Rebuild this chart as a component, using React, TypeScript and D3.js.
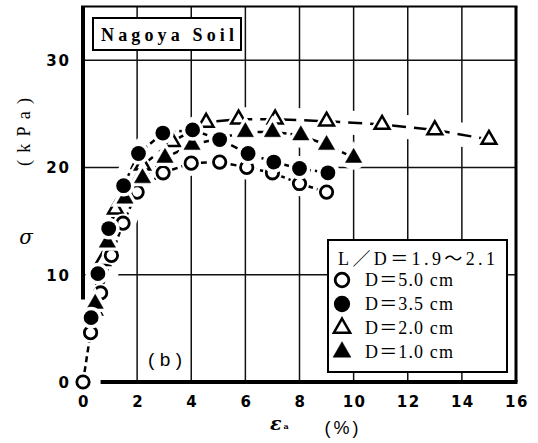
import React, { useEffect, useRef } from 'react';
import * as d3 from 'd3';

// axis ticks / grid
const xTicks = [0, 2, 4, 6, 8, 10, 12, 14, 16];
const yTicks = [0, 10, 20, 30];
const gridX = [2, 4, 6, 8, 10, 12, 14];
const gridY = [10, 20, 30];

// D = 5.0 cm (open circle)
const d50Strain = [0, 0.28, 0.65, 1.05, 1.48, 2.0, 2.96, 4.0, 5.05, 6.05, 7.0, 8.0, 9.0];
const d50Stress = [0, 4.6, 8.3, 11.8, 14.8, 17.7, 19.5, 20.4, 20.5, 20.0, 19.5, 18.5, 17.7];

// D = 3.5 cm (filled circle)
const d35Strain = [0.3, 0.55, 0.95, 1.5, 2.05, 2.95, 4.05, 5.05, 6.1, 7.05, 8.0, 9.05];
const d35Stress = [6.0, 10.1, 14.3, 18.3, 21.3, 23.2, 23.5, 22.6, 21.3, 20.5, 19.9, 19.5];

// D = 2.0 cm (open triangle)
const d20Strain = [0.42, 0.72, 1.2, 2.2, 3.3, 4.55, 5.75, 7.1, 9.0, 11.05, 13.0, 15.0];
const d20Stress = [6.7, 11.3, 16.1, 20.2, 22.4, 24.2, 24.5, 24.5, 24.3, 24.0, 23.5, 22.6];

// D = 1.0 cm (filled triangle)
const d10Strain = [0.45, 0.9, 1.55, 2.2, 3.03, 4.03, 6.0, 7.0, 8.05, 9.0, 10.0];
const d10Stress = [7.3, 13.0, 17.1, 19.0, 20.9, 22.1, 23.3, 23.3, 23.0, 22.1, 20.9];

const legendTitle = 'L／D＝1.9～2.1';
const seriesLabels = ['D＝5.0 cm', 'D＝3.5 cm', 'D＝2.0 cm', 'D＝1.0 cm'];

// where the frame is broken near the origin
const yAxisBreak = 7.7;
const xAxisBreak = 0.65;

type Shape = 'circle' | 'triangle';
interface Series {
  label: string;
  xs: number[];
  ys: number[];
  shape: Shape;
  filled: boolean;
  dash: string;
}

const series: Series[] = [
  { label: seriesLabels[2], xs: d20Strain, ys: d20Stress, shape: 'triangle', filled: false, dash: '14,8' },
  { label: seriesLabels[0], xs: d50Strain, ys: d50Stress, shape: 'circle', filled: false, dash: '6,4' },
  { label: seriesLabels[3], xs: d10Strain, ys: d10Stress, shape: 'triangle', filled: true, dash: '7,4' },
  { label: seriesLabels[1], xs: d35Strain, ys: d35Stress, shape: 'circle', filled: true, dash: '7,4' }
];
const legendOrder = [1, 3, 0, 2];

const App: React.FC = () => {
  const svgRef = useRef<SVGSVGElement>(null);
  const width = 538;
  const height = 443;
  const margin = { top: 6.5, right: 22, bottom: 61, left: 83 };

  useEffect(() => {
    if (!svgRef.current) return;
    const svg = d3.select(svgRef.current);
    svg.selectAll('*').remove();

    const x = d3.scaleLinear().domain([0, 16]).range([margin.left, width - margin.right]);
    const y = d3.scaleLinear().domain([0, 35]).range([height - margin.bottom, margin.top]);
    const x0 = x(0), x1 = x(16), y0 = y(0), y1 = y(35);

    svg.append('rect').attr('width', width).attr('height', height).attr('fill', '#fff');

    // grid
    svg.append('g')
      .selectAll('line.gx')
      .data(gridX)
      .enter()
      .append('line')
      .attr('x1', d => x(d)).attr('x2', d => x(d))
      .attr('y1', y0).attr('y2', y1)
      .attr('stroke', '#111').attr('stroke-width', 1.5);
    svg.append('g')
      .selectAll('line.gy')
      .data(gridY)
      .enter()
      .append('line')
      .attr('x1', x0).attr('x2', x1)
      .attr('y1', d => y(d)).attr('y2', d => y(d))
      .attr('stroke', '#111').attr('stroke-width', 1.5);

    const lineGen = d3.line<[number, number]>()
      .x(d => x(d[0]))
      .y(d => y(d[1]));

    // white halo along curves erases grid near the data
    series.forEach(s => {
      const pts = s.xs.map((v, i) => [v, s.ys[i]] as [number, number]);
      svg.append('path')
        .attr('d', lineGen(pts))
        .attr('fill', 'none')
        .attr('stroke', '#fff')
        .attr('stroke-width', 24)
        .attr('stroke-linejoin', 'round')
        .attr('stroke-linecap', 'round');
    });

    // frame
    svg.append('line').attr('x1', x0).attr('x2', x0).attr('y1', y1).attr('y2', y(yAxisBreak))
      .attr('stroke', '#000').attr('stroke-width', 4);
    svg.append('line').attr('x1', x(xAxisBreak)).attr('x2', x1 + 1.5).attr('y1', y0).attr('y2', y0)
      .attr('stroke', '#000').attr('stroke-width', 4);
    svg.append('line').attr('x1', x1).attr('x2', x1).attr('y1', y1).attr('y2', y0)
      .attr('stroke', '#000').attr('stroke-width', 3);
    svg.append('line').attr('x1', x0 - 2).attr('x2', x1 + 1.5).attr('y1', y1).attr('y2', y1)
      .attr('stroke', '#000').attr('stroke-width', 2);

    // data lines
    series.forEach(s => {
      const pts = s.xs.map((v, i) => [v, s.ys[i]] as [number, number]);
      svg.append('path')
        .attr('d', lineGen(pts))
        .attr('fill', 'none')
        .attr('stroke', '#000')
        .attr('stroke-width', 2.5)
        .attr('stroke-dasharray', s.dash);
    });

    const drawMarker = (g: d3.Selection<SVGGElement, unknown, null, undefined>, shape: Shape,
      filled: boolean, cx: number, cy: number, halo: boolean, scale = 1) => {
      if (shape === 'circle') {
        const r = (filled ? 7.4 : 6.2) * scale;
        g.append('circle')
          .attr('cx', cx).attr('cy', cy).attr('r', r)
          .attr('fill', halo ? '#fff' : filled ? '#000' : '#fff')
          .attr('stroke', halo ? '#fff' : '#000')
          .attr('stroke-width', halo ? 7 : filled ? 0 : 2.8);
      } else {
        const sym = d3.symbol().type(d3.symbolTriangle).size((filled ? 115 : 95) * scale * scale);
        g.append('path')
          .attr('d', sym()!)
          .attr('transform', `translate(${cx},${cy})`)
          .attr('fill', halo ? '#fff' : filled ? '#000' : '#fff')
          .attr('stroke', halo ? '#fff' : '#000')
          .attr('stroke-width', halo ? 7 : filled ? 0.5 : 2.5)
          .attr('stroke-linejoin', 'miter');
      }
    };

    // markers with white rings
    const mg = svg.append('g');
    series.forEach(s => {
      s.xs.forEach((v, i) => drawMarker(mg, s.shape, s.filled, x(v), y(s.ys[i]), true));
      s.xs.forEach((v, i) => drawMarker(mg, s.shape, s.filled, x(v), y(s.ys[i]), false));
    });

    // tick labels
    const tickFont = "'DejaVu Sans', 'Liberation Sans', Arial, sans-serif";
    svg.append('g')
      .selectAll('text')
      .data(yTicks)
      .enter()
      .append('text')
      .attr('x', x0 - 12)
      .attr('y', d => y(d) + 6)
      .attr('text-anchor', 'end')
      .style('font-family', tickFont)
      .style('font-weight', 'bold')
      .style('font-size', '15px')
      .style('letter-spacing', '2px')
      .text(d => String(d));
    svg.append('g')
      .selectAll('text')
      .data(xTicks)
      .enter()
      .append('text')
      .attr('x', d => x(d) + 1)
      .attr('y', y0 + 25)
      .attr('text-anchor', 'middle')
      .style('font-family', tickFont)
      .style('font-weight', 'bold')
      .style('font-size', '15px')
      .style('letter-spacing', '1.5px')
      .text(d => String(d));

    // axis titles
    const xt = svg.append('text')
      .attr('x', 270)
      .attr('y', y0 + 48)
      .style('font-family', "'DejaVu Serif', serif");
    xt.append('tspan')
      .style('font-style', 'italic')
      .style('font-weight', 'bold')
      .style('font-size', '19px')
      .text('ε');
    xt.append('tspan')
      .attr('dx', 2)
      .attr('dy', -1)
      .style('font-weight', 'bold')
      .style('font-size', '8px')
      .text('a');
    svg.append('text')
      .attr('x', 343)
      .attr('y', y0 + 52)
      .attr('text-anchor', 'middle')
      .style('font-family', "'Liberation Sans', sans-serif")
      .style('font-size', '18px')
      .style('letter-spacing', '3px')
      .text('(%)');

    svg.append('text')
      .attr('x', 26)
      .attr('y', 244)
      .attr('text-anchor', 'middle')
      .style('font-family', "'DejaVu Serif', serif")
      .style('font-style', 'italic')
      .style('font-size', '20px')
      .text('σ');
    svg.append('text')
      .attr('transform', 'translate(30,132) rotate(-90)')
      .attr('text-anchor', 'middle')
      .attr('textLength', 68)
      .attr('lengthAdjust', 'spacing')
      .style('font-family', "'Liberation Serif', serif")
      .style('font-size', '18px')
      .text('(kPa)');

    // panel tag
    svg.append('text')
      .attr('x', x(3.03))
      .attr('y', y(1.5))
      .attr('text-anchor', 'middle')
      .attr('textLength', 34)
      .attr('lengthAdjust', 'spacing')
      .style('font-family', "'Liberation Sans', sans-serif")
      .style('font-size', '19px')
      .text('(b)');

    // title box
    const tb = svg.append('g');
    tb.append('rect')
      .attr('x', 93).attr('y', 18).attr('width', 148).attr('height', 32)
      .attr('fill', '#fff').attr('stroke', '#000').attr('stroke-width', 2);
    tb.append('text')
      .attr('x', 101).attr('y', 41)
      .attr('textLength', 133)
      .attr('lengthAdjust', 'spacing')
      .style('font-family', "'Liberation Serif', serif")
      .style('font-weight', 'bold')
      .style('font-size', '18px')
      .text('Nagoya Soil');

    // legend
    const lg = svg.append('g');
    lg.append('rect')
      .attr('x', 328).attr('y', 240).attr('width', 179).attr('height', 132)
      .attr('fill', '#fff').attr('stroke', '#000').attr('stroke-width', 2);
    const legendFont = "'Liberation Serif', 'Noto Sans CJK JP', serif";
    lg.append('text')
      .attr('x', 338).attr('y', 265)
      .attr('textLength', 157)
      .attr('lengthAdjust', 'spacing')
      .style('font-family', legendFont)
      .style('font-size', '18px')
      .text(legendTitle);
    legendOrder.forEach((si, row) => {
      const s = series[si];
      const cy = 280 + row * 24;
      drawMarker(lg, s.shape, s.filled, 342, cy, false, 1.1);
      lg.append('text')
        .attr('x', 365).attr('y', cy + 6)
        .attr('textLength', 88)
        .attr('lengthAdjust', 'spacing')
        .style('font-family', legendFont)
        .style('font-size', '18px')
        .text(s.label);
    });
  }, []);

  return (
    <svg ref={svgRef} width={width} height={height}
      style={{ position: 'absolute', left: 0, top: 0, background: '#fff' }} />
  );
};

export default App;
